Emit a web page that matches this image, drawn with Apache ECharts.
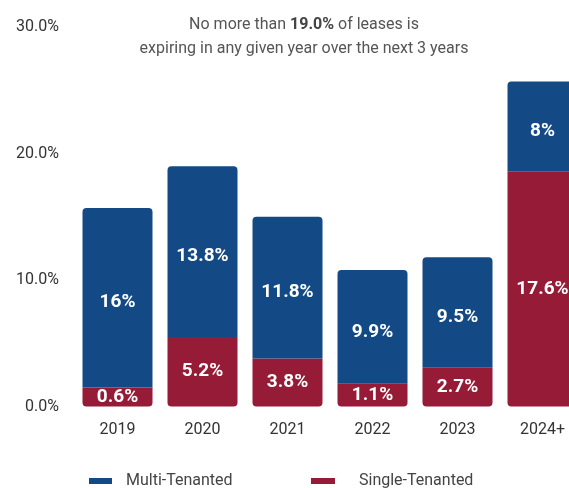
<!DOCTYPE html>
<html>
<head>
<meta charset="utf-8">
<script src="https://cdn.jsdelivr.net/npm/echarts@6/dist/echarts.min.js"></script>
<style>
html,body{margin:0;padding:0;background:#fff;}
#chart{width:569px;height:488px;}
</style>
</head>
<body>
<div id="chart"></div>
<script>
var categories = ['2019', '2020', '2021', '2022', '2023', '2024+'];
// bar heights as drawn in the picture (% of leases)
var singleValues = [1.5, 5.5, 3.8, 1.8, 3.1, 18.6];
var multiValues = [14.2, 13.5, 11.2, 9.0, 8.7, 7.1];
// label texts printed on the bars
var singleLabels = ['0.6%', '5.2%', '3.8%', '1.1%', '2.7%', '17.6%'];
var multiLabels = ['16%', '13.8%', '11.8%', '9.9%', '9.5%', '8%'];
var yTicks = [0, 10, 20, 30];

var FONT = 'Roboto, "Noto Sans", sans-serif';
var BLUE = '#134a86';
var RED = '#961b36';

var chart = echarts.init(document.getElementById('chart'), null, {renderer: 'canvas'});
chart.setOption({
  animation: false,
  textStyle: {fontFamily: FONT},
  title: {
    text: 'No more than {b|19.0%} of leases is\nexpiring in any given year over the next 3 years',
    left: 299,
    textAlign: 'center',
    top: 8,
    textStyle: {
      fontFamily: FONT,
      fontSize: 16,
      fontWeight: 'normal',
      color: '#555',
      lineHeight: 24,
      rich: {
        b: {fontFamily: FONT, fontSize: 16, fontWeight: 'bold', color: '#444', lineHeight: 24}
      }
    }
  },
  legend: [
    {
      data: ['Multi-Tenanted'],
      left: 84, top: 468,
      itemWidth: 23, itemHeight: 6,
      icon: 'rect',
      textStyle: {fontFamily: FONT, fontSize: 16, color: '#444', padding: [0, 0, 0, 9]}
    },
    {
      data: ['Single-Tenanted'],
      left: 306, top: 468,
      itemWidth: 24, itemHeight: 6,
      icon: 'rect',
      textStyle: {fontFamily: FONT, fontSize: 16, color: '#444', padding: [0, 0, 0, 19]}
    }
  ],
  grid: {left: 75, top: 27, width: 510, height: 379.5, containLabel: false, outerBoundsMode: 'none'},
  xAxis: {
    type: 'category',
    data: categories,
    axisLine: {show: false},
    axisTick: {show: false},
    axisLabel: {fontFamily: FONT, fontSize: 16, color: '#333', margin: 15}
  },
  yAxis: {
    type: 'value',
    min: yTicks[0],
    max: yTicks[yTicks.length - 1],
    interval: 10,
    splitLine: {show: false},
    axisLine: {show: false},
    axisTick: {show: false},
    axisLabel: {
      fontFamily: FONT, fontSize: 16, color: '#333', margin: 16,
      formatter: function (v) { return v.toFixed(1) + '%'; }
    }
  },
  series: [
    {
      name: 'Single-Tenanted',
      type: 'bar',
      stack: 'total',
      barWidth: 70,
      data: singleValues,
      itemStyle: {color: RED, borderRadius: [0, 0, 4, 4]},
      label: {
        show: true,
        position: 'inside',
        color: '#fff',
        fontFamily: FONT,
        fontSize: 19,
        fontWeight: 'bold',
        formatter: function (p) { return singleLabels[p.dataIndex]; }
      }
    },
    {
      name: 'Multi-Tenanted',
      type: 'bar',
      stack: 'total',
      barWidth: 70,
      data: multiValues,
      itemStyle: {color: BLUE, borderRadius: [4, 4, 0, 0]},
      label: {
        show: true,
        position: 'inside',
        offset: [0, 5],
        color: '#fff',
        fontFamily: FONT,
        fontSize: 19,
        fontWeight: 'bold',
        formatter: function (p) { return multiLabels[p.dataIndex]; }
      }
    }
  ]
});
</script>
</body>
</html>
